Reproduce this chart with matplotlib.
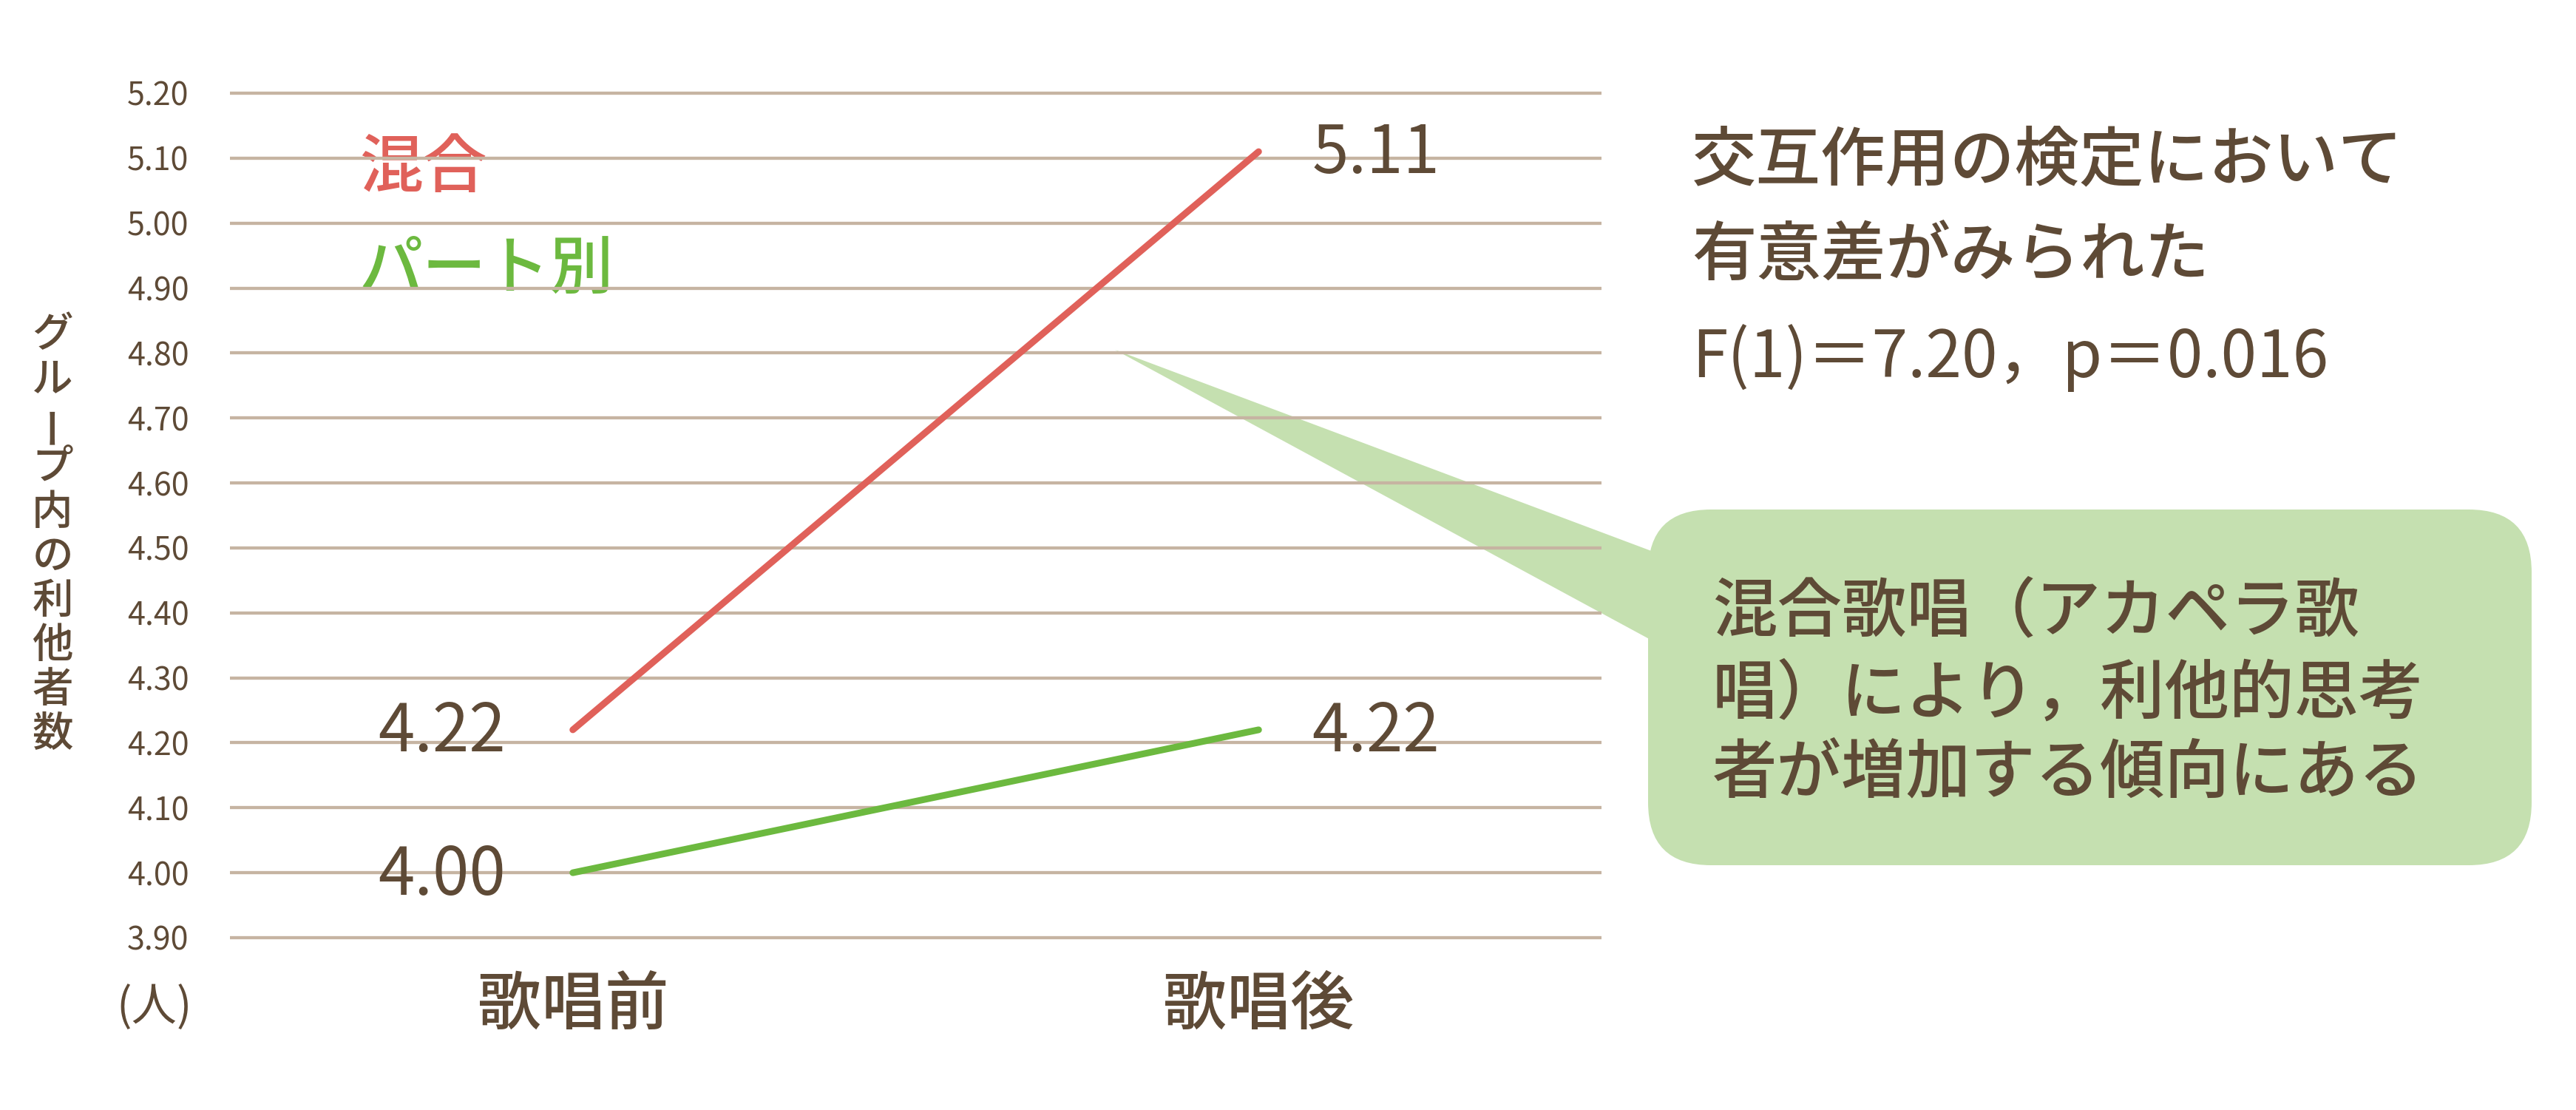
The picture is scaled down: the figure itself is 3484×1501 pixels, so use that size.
import matplotlib
matplotlib.use("Agg")
import matplotlib.pyplot as plt
from matplotlib.patches import FancyBboxPatch, Polygon
import numpy as np

plt.rcParams['font.family'] = ['Noto Sans CJK JP', 'DejaVu Sans']

# ── data ──────────────────────────────────────────────────────────────────────
categories = ["歌唱前", "歌唱後"]
mixed = [4.22, 5.11]        # 混合
by_part = [4.00, 4.22]      # パート別
yticks = np.round(np.arange(3.90, 5.201, 0.10), 2)

ylabel_chars = list("グループ内の利他者数")
note_lines = ["交互作用の検定において", "有意差がみられた", "F(1)＝7.20，p＝0.016"]
callout_lines = ["混合歌唱（アカペラ歌", "唱）により，利他的思考", "者が増加する傾向にある"]

# ── colours ───────────────────────────────────────────────────────────────────
C_TEXT = "#5e4a36"
C_GRID = "#c6b4a2"
C_RED = "#e0615a"
C_GREEN = "#6cb93f"
C_BOX = "#c5e0b0"
JP_W = "medium"

W, H = 3484, 1501
fig = plt.figure(figsize=(W / 100, H / 100), dpi=100)

# pixel overlay (behind the chart)
bg = fig.add_axes([0, 0, 1, 1], zorder=0)
bg.set_xlim(0, W); bg.set_ylim(H, 0)
bg.axis("off")

# main axes placed by pixel mapping
ylo, yhi = 3.88, 5.22
ppu = (1268 - 126) / 1.3
top_px = 126 - (yhi - 5.2) * ppu
bot_px = 1268 + (3.9 - ylo) * ppu
left_px, right_px = 311, 2166
ax = fig.add_axes([left_px / W, 1 - bot_px / H,
                   (right_px - left_px) / W, (bot_px - top_px) / H], zorder=1)
ax.patch.set_alpha(0)
ax.set_xlim(-0.5, 1.5)
ax.set_ylim(ylo, yhi)
for s in ax.spines.values():
    s.set_visible(False)

ax.set_yticks(yticks)
ax.set_yticklabels([f"{v:.2f}" for v in yticks])
ax.grid(axis="y", color=C_GRID, lw=3.1)
ax.set_axisbelow(True)
ax.tick_params(axis="y", length=0, pad=40, labelsize=31, labelcolor=C_TEXT)
ax.set_xticks(range(len(categories)))
ax.set_xticklabels(categories, fontweight=JP_W)
ax.tick_params(axis="x", length=0, pad=22, labelsize=62, labelcolor=C_TEXT)

x = np.arange(len(categories))
ax.plot(x, mixed, color=C_RED, lw=6.5, solid_capstyle="round", zorder=3)
ax.plot(x, by_part, color=C_GREEN, lw=6.5, solid_capstyle="round", zorder=3)

# value labels
for series in (mixed, by_part):
    ax.annotate(f"{series[0]:.2f}", (x[0], series[0]), xytext=(-65, -3),
                textcoords="offset points", ha="right", va="center",
                fontsize=64, color=C_TEXT, zorder=4)
    ax.annotate(f"{series[1]:.2f}", (x[1], series[1]), xytext=(52, -3),
                textcoords="offset points", ha="left", va="center",
                fontsize=64, color=C_TEXT, zorder=4)

# series labels
bg.text(486, 228, "混合", color=C_RED, fontsize=62, ha="left", va="center",
        fontweight=JP_W)
bg.text(486, 365, "パート別", color=C_GREEN, fontsize=62, ha="left", va="center",
        fontweight=JP_W)

# vertical y-axis label
for i, ch in enumerate(ylabel_chars):
    rot = 90 if ch == "ー" else 0
    bg.text(71, 453 + i * 60, ch, fontsize=40, color=C_TEXT,
            ha="center", va="center", rotation=rot, fontweight=JP_W)
bg.text(209, 1363, "(人)", fontsize=44, color=C_TEXT, ha="center", va="center")

# note text top right
for y, line in zip([218, 347, 484], note_lines):
    bg.text(2288, y, line, fontsize=63, color=C_TEXT, ha="left", va="center",
            fontweight=JP_W if "F(" not in line else "normal")

# callout pointer + box
bg.add_patch(Polygon([(1508, 473), (2260, 755), (2260, 880)], closed=True,
                     facecolor=C_BOX, edgecolor="none"))
bg.add_patch(FancyBboxPatch((2229, 689), 3424 - 2229, 1170 - 689,
                            boxstyle="round,pad=0,rounding_size=85",
                            facecolor=C_BOX, edgecolor="none"))
for y, line in zip([828, 940, 1046], callout_lines):
    bg.text(2316, y, line, fontsize=63, color=C_TEXT, ha="left", va="center",
            fontweight=JP_W)

fig.savefig("out.png", dpi=100)
